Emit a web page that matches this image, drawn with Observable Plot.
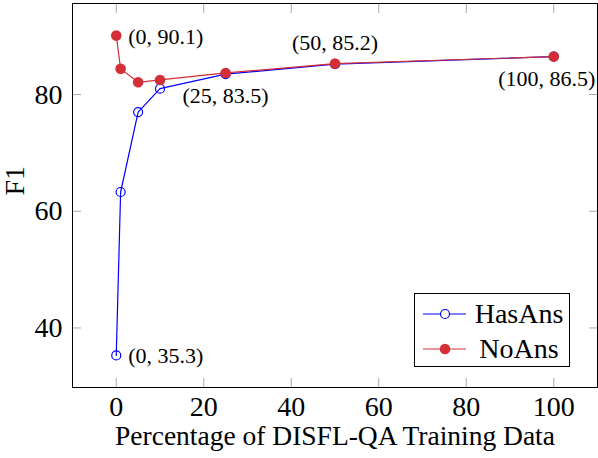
<!DOCTYPE html>
<html>
<head>
<meta charset="utf-8">
<script src="https://cdn.jsdelivr.net/npm/d3@7"></script>
<script src="https://cdn.jsdelivr.net/npm/@observablehq/plot@0.6"></script>
<style>
  body { margin: 0; background: #fff; }
  #chart { position: relative; width: 598px; height: 458px; font-family: "Liberation Serif", serif; }
  .legend { position: absolute; left: 414px; top: 293px; width: 156px; height: 74px;
            border: 1px solid #000; background: #fff; box-sizing: border-box; }
  .legend .row { position: absolute; left: 0; width: 100%; height: 30px; }
  .legend svg { position: absolute; left: 8px; top: 5px; }
  .legend span { position: absolute; left: 54px; width: 100px; text-align: center; font-size: 28px; line-height: 30px; }
</style>
</head>
<body>
<div id="chart"></div>
<script>
// percentage of DISFL-QA training data
const pct = [0, 1, 5, 10, 25, 50, 100];
const hasAns = [35.3, 63.3, 77.0, 81.0, 83.5, 85.2, 86.5];
const noAns = [90.1, 84.4, 82.1, 82.5, 83.7, 85.3, 86.5];

const xTicks = [0, 20, 40, 60, 80, 100];
const yTicks = [40, 60, 80];

// annotated points
const noteX = [0, 0, 25, 50, 100];
const noteY = [90.1, 35.3, 83.5, 85.2, 86.5];

const blue = "#0000ff";
const red = "#d42f36";
const tickGray = "#aaaaaa";

const rows = pct.map((p, i) => ({pct: p, hasAns: hasAns[i], noAns: noAns[i]}));
const notes = noteX.map((x, i) => ({x, y: noteY[i], text: `(${x}, ${noteY[i]})`}));

const chart = Plot.plot({
  width: 598,
  height: 458,
  marginLeft: 72,
  marginRight: 1,
  marginTop: 3,
  marginBottom: 71,
  style: {fontFamily: "Liberation Serif, serif", fontSize: "28px", color: "#000", background: "#fff"},
  x: {domain: [-10, 110]},
  y: {domain: [29.8, 95.6]},
  marks: [
    // inward ticks on all four sides
    Plot.axisX(xTicks, {anchor: "bottom", tickSize: -9, stroke: tickGray, tickFormat: () => "", label: null}),
    Plot.axisX(xTicks, {anchor: "top", tickSize: -9, stroke: tickGray, tickFormat: () => "", label: null}),
    Plot.axisY(yTicks, {anchor: "left", tickSize: -9, stroke: tickGray, tickFormat: () => "", label: null}),
    Plot.axisY(yTicks, {anchor: "right", tickSize: -9, stroke: tickGray, tickFormat: () => "", label: null}),
    // tick labels
    Plot.axisX(xTicks, {anchor: "bottom", tickSize: 0, tickPadding: 9, fontSize: 28, label: null}),
    Plot.axisY(yTicks, {anchor: "left", tickSize: 0, tickPadding: 10, fontSize: 28, label: null}),
    Plot.frame({stroke: "#000", strokeWidth: 1}),
    // axis titles
    Plot.text(["Percentage of DISFL-QA Training Data"], {frameAnchor: "bottom", dy: 57, fontSize: 27.5, fill: "#000"}),
    Plot.text(["F1"], {frameAnchor: "left", rotate: -90, dx: -57, fontSize: 28, fill: "#000"}),
    // HasAns
    Plot.line(rows, {x: "pct", y: "hasAns", stroke: blue, strokeWidth: 1.2}),
    Plot.dot(rows, {x: "pct", y: "hasAns", r: 4.5, stroke: blue, strokeWidth: 1.2, fill: "none"}),
    // NoAns
    Plot.line(rows, {x: "pct", y: "noAns", stroke: red, strokeWidth: 1.2}),
    Plot.dot(rows, {x: "pct", y: "noAns", r: 5.3, fill: red, stroke: "none"}),
    // point labels
    Plot.text(notes.slice(0, 2), {x: "x", y: "y", text: "text", textAnchor: "start", dx: 12, dy: 1, fontSize: 22, fill: "#000"}),
    Plot.text(notes.slice(2, 3), {x: "x", y: "y", text: "text", dy: 22, fontSize: 22, fill: "#000"}),
    Plot.text(notes.slice(3, 4), {x: "x", y: "y", text: "text", dy: -21, fontSize: 22, fill: "#000"}),
    Plot.text(notes.slice(4, 5), {x: "x", y: "y", text: "text", dx: -7, dy: 22, fontSize: 22, fill: "#000"})
  ]
});

const container = d3.select("#chart");
container.append(() => chart);

// legend inside the plot area
const legend = container.append("div").attr("class", "legend");
const series = [
  {name: "HasAns", color: blue, filled: false},
  {name: "NoAns", color: red, filled: true}
];
series.forEach((s, i) => {
  const row = legend.append("div").attr("class", "row").style("top", `${5 + i * 35}px`);
  const svg = row.append("svg").attr("width", 44).attr("height", 20);
  svg.append("line").attr("x1", 0).attr("x2", 43).attr("y1", 10).attr("y2", 10)
    .attr("stroke", s.color).attr("stroke-width", 1.2);
  svg.append("circle").attr("cx", 22).attr("cy", 10).attr("r", s.filled ? 5.3 : 4.5)
    .attr("fill", s.filled ? s.color : "white").attr("stroke", s.filled ? "none" : s.color).attr("stroke-width", 1.2);
  row.append("span").text(s.name);
});
</script>
</body>
</html>
